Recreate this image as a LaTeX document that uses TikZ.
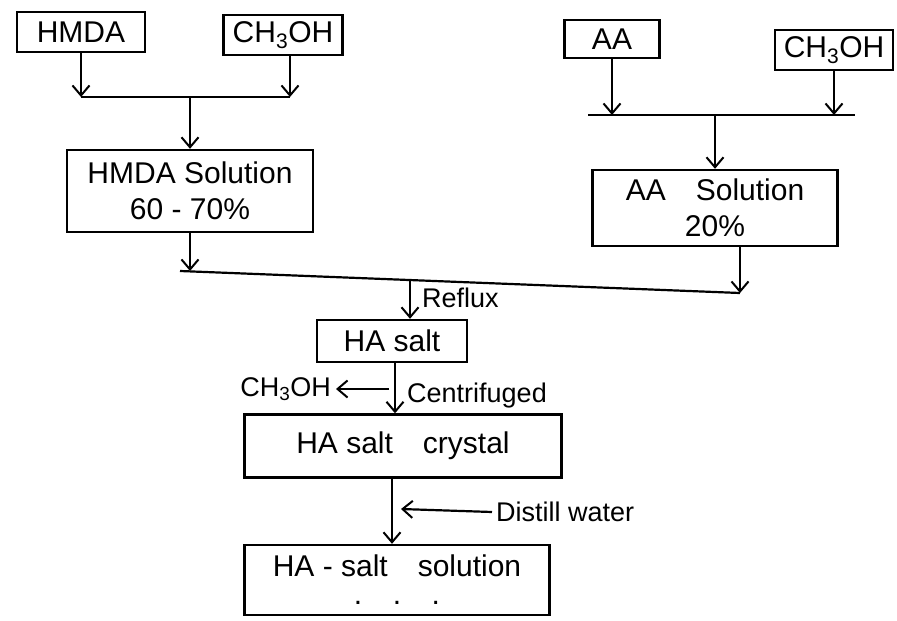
\documentclass[tikz,border=0pt]{standalone}
\usepackage{fontspec}
\setmainfont{Liberation Sans}
\usetikzlibrary{arrows.meta}
\begin{document}
\begin{tikzpicture}[x=1pt,y=-1pt,
  box/.style={draw, line width=2.4pt, rectangle, inner sep=2pt, align=center,
              font=\fontsize{30}{36}\selectfont},
  flow/.style={line width=2.2pt, -{Straight Barb[length=10pt,width=17pt,line width=2pt]}},
  wire/.style={line width=2.2pt},
  lbl/.style={font=\fontsize{27}{30}\selectfont, inner sep=1pt}]
\useasboundingbox (0,0) rectangle (897,621);

% raw materials
\node[box, minimum width=128pt, minimum height=40pt] (hmda) at (81,32) {HMDA};
\node[box, minimum width=119pt, minimum height=40pt] (mel) at (283,35) {CH\textsubscript{3}OH};
\node[box, minimum width=95pt, minimum height=38pt] (aa) at (612,39) {AA};
\node[box, minimum width=118pt, minimum height=40pt] (mer) at (834,50) {CH\textsubscript{3}OH};

% solutions
\node[box, minimum width=246pt, minimum height=82pt] (hsol) at (190,191) {HMDA Solution\\60 - 70\%};
\node[box, minimum width=245pt, minimum height=76pt] (asol) at (715,208) {AA\quad Solution\\20\%};

% salt stages
\node[box, minimum width=150pt, minimum height=42pt] (salt) at (392,341) {HA salt};
\node[box, minimum width=317pt, minimum height=63pt] (crys) at (403,446) {HA salt\quad crystal};
\node[box, minimum width=305pt, minimum height=70pt] (sol) at (397,580) {HA - salt\quad solution\\[-8pt]. \; . \; .};

% HMDA branch
\coordinate (l1) at (81,97);
\coordinate (l2) at (290,97);
\coordinate (lm) at (190,97);
\draw[flow] (hmda.south) -- (l1);
\draw[flow] (mel.south -| l2) -- (l2);
\draw[wire] (l1) -- (l2);
\draw[flow] (lm) -- (hsol.north);

% AA branch
\coordinate (r0) at (588,115);
\coordinate (r1) at (612,115);
\coordinate (r2) at (855,115);
\coordinate (rm) at (715,115);
\draw[flow] (aa.south) -- (r1);
\draw[flow] (mer.south) -- (mer.south |- r2);
\draw[wire] (r0) -- (r2);
\draw[flow] (rm) -- (asol.north);

% merging both solutions
\coordinate (m1) at (190,271);
\coordinate (m2) at (740,293);
\coordinate (mm) at (410,280);
\draw[flow] (hsol.south) -- (m1);
\draw[flow] ([xshift=25pt]asol.south) -- (m2);
\draw[wire] (180,271) -- (m2);
\draw[flow] (mm) -- (mm |- salt.north);
\node[lbl, anchor=west] (reflux) at (421,298) {Reflux};

% centrifuging
\coordinate (c1) at (395,362);
\draw[flow] (c1) -- (c1 |- crys.north);
\node[lbl, anchor=west] (cent) at (406,396) {Centrifuged};
\node[lbl, anchor=east] (meout) at (332,389) {CH\textsubscript{3}OH};
\draw[flow] (389,389) -- ([xshift=4pt]meout.east);

% dissolving in water
\coordinate (d1) at (392,478);
\draw[flow] (d1) -- (d1 |- sol.north);
\node[lbl, anchor=west] (water) at (495,512) {Distill water};
\draw[flow] ([xshift=-3pt]water.west) -- (401,509);
\end{tikzpicture}
\end{document}
